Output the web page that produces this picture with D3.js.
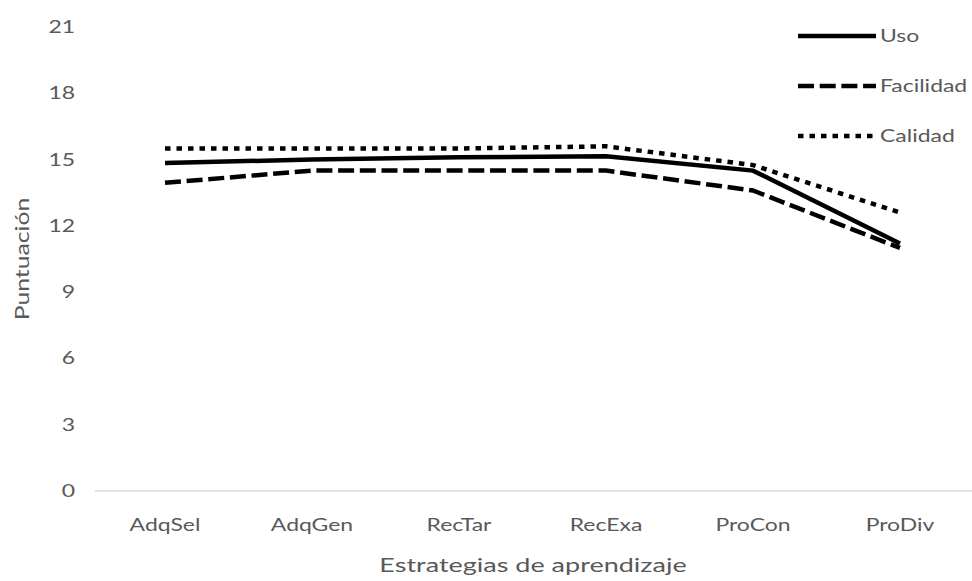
<!DOCTYPE html>
<html><head><meta charset="utf-8">
<script src="https://cdn.jsdelivr.net/npm/d3@7"></script>
<style>body{margin:0;background:#fff}svg{display:block}text{font-family:Lato,"Open Sans",sans-serif;fill:#595959}</style>
</head><body><svg width="972" height="581"></svg>
<script>
const categories = ["AdqSel","AdqGen","RecTar","RecExa","ProCon","ProDiv"];
const uso = [14.85, 15.0, 15.1, 15.15, 14.5, 11.2];
const facilidad = [13.95, 14.5, 14.5, 14.5, 13.6, 11.0];
const calidad = [15.5, 15.5, 15.5, 15.6, 14.75, 12.6];
const seriesNames = ["Uso","Facilidad","Calidad"];
const yTicks = [0,3,6,9,12,15,18,21];

const SX = 1.35; // horizontal stretch of the reference text
const svg = d3.select("svg");
const x = d3.scalePoint().domain(categories).range([165, 900]);
const y = d3.scaleLinear().domain([0,21]).range([491, 27]);
const styles = {
  Uso: {dash: null},
  Facilidad: {dash: "16,5.7"},
  Calidad: {dash: "5.5,6"}
};
const data = {Uso: uso, Facilidad: facilidad, Calidad: calidad};

function stext(g, tx, ty, str, size, anchor, sx){
  return g.append("text")
    .attr("transform", `translate(${tx},${ty}) scale(${sx||SX},1)`)
    .attr("dy","0.35em").attr("text-anchor",anchor).attr("font-size",size).text(str);
}

// x axis line
svg.append("line").attr("x1",95).attr("x2",972).attr("y1",y(0)).attr("y2",y(0))
  .attr("stroke","#d9d9d9").attr("stroke-width",1.5);

// y tick labels
const gy = svg.append("g");
yTicks.forEach(d=>stext(gy, 75, y(d), d, 17, "end"));

// x labels
const gx = svg.append("g");
categories.forEach(d=>stext(gx, x(d), 525, d, 17, "middle"));

// axis titles
stext(svg, 533, 565, "Estrategias de aprendizaje", 20, "middle");
svg.append("text").attr("transform","translate(22,259) rotate(-90) scale(1.3,1)").attr("dy","0.35em")
  .attr("text-anchor","middle").attr("font-size",19).text("Puntuación");

const line = d3.line().x((d,i)=>x(categories[i])).y(d=>y(d));
seriesNames.forEach(n=>{
  svg.append("path").datum(data[n]).attr("d",line).attr("fill","none")
    .attr("stroke","#000").attr("stroke-width",4.5)
    .attr("stroke-dasharray",styles[n].dash);
});

// legend
const leg = svg.append("g");
seriesNames.forEach((n,i)=>{
  const yy = 36 + i*50;
  leg.append("line").attr("x1",798).attr("x2",876).attr("y1",yy).attr("y2",yy)
    .attr("stroke","#000").attr("stroke-width",4.5).attr("stroke-dasharray",styles[n].dash);
  stext(leg, 880, yy, n, 17, "start");
});
</script></body></html>
